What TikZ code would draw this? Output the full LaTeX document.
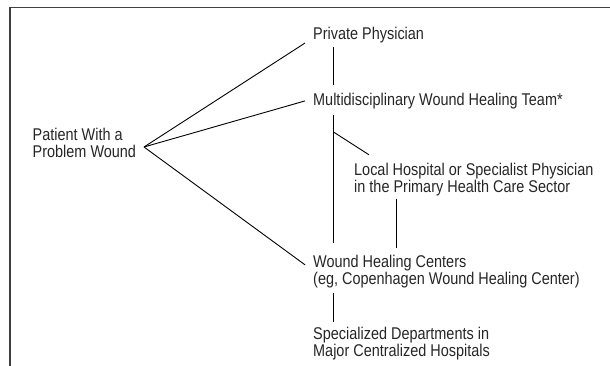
\documentclass[tikz,border=0pt]{standalone}
\usepackage{fontspec}
\setmainfont[FakeStretch=0.85]{Liberation Sans}
\usepackage{tikz}
\usetikzlibrary{calc,positioning}
\tikzset{
    txt/.style={
    anchor=north west,align=left,inner xsep=8pt,inner ysep=0pt,text=black!85,
    font=\fontsize{17}{17.5}\selectfont
    },
    link/.style={draw, line width=0.9pt},
    frame/.style={draw=black!75, line width=1.4pt},
}
\begin{document}
\begin{tikzpicture}[x=1pt, y=-1pt]
   \useasboundingbox (0,0) rectangle (610,366);
   \draw[frame] (610,7.5) -- (10,7.5) -- (10,366);

   \node[txt] (pat)  at (24.5,127.8) {Patient With a\\Problem Wound};

   \node[txt] (priv) at (305,26.8)  {Private Physician};
   \node[txt] (team) at (305,92.8)  {Multidisciplinary Wound Healing Team*};
   \node[txt] (loc)  at (346,162.8) {Local Hospital or Specialist Physician\\in the Primary Health Care Sector};
   \node[txt] (whc)  at (305,254.8) {Wound Healing Centers\\(eg, Copenhagen Wound Healing Center)};
   \node[txt] (spec) at (305,326.8) {Specialized Departments in\\Major Centralized Hospitals};

   \coordinate (fan)  at (144,147);
   \coordinate (col)  at (333.5,0);
   \coordinate (lcol) at (396,0);
   \coordinate (br)   at (333.5,132);

  \path[link]
    (fan) edge (priv.south west)
          edge (team.west)
          edge ([yshift=-10pt]whc.north west)
    (priv.south -| col) edge[shorten <=4pt, shorten >=8pt] (team.north -| col)
    (team.south -| col) edge[shorten <=6.4pt, shorten >=12pt] (whc.north -| col)
    (br) edge ([xshift=23pt,yshift=8pt]loc.north west)
    (loc.south -| lcol) edge[shorten <=2pt, shorten >=7pt] (whc.north -| lcol)
    (whc.south -| col) edge[shorten <=4.4pt, shorten >=5pt] (spec.north -| col);
  \end{tikzpicture}
\end{document}
